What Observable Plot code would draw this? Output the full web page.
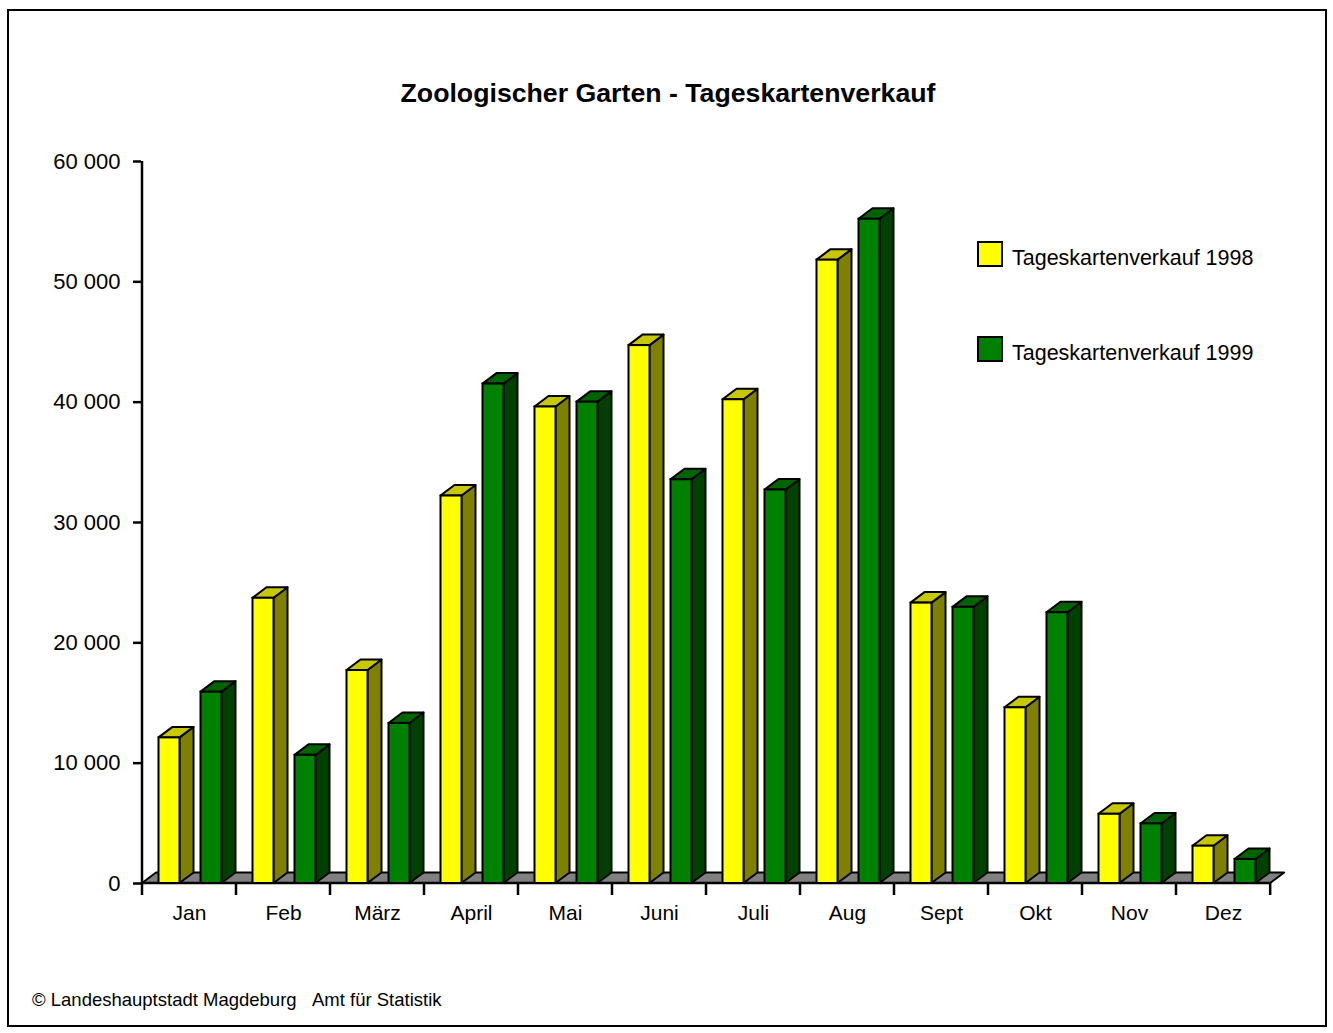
<!DOCTYPE html>
<html>
<head>
<meta charset="utf-8">
<script src="https://cdn.jsdelivr.net/npm/d3@7"></script>
<script src="https://cdn.jsdelivr.net/npm/@observablehq/plot@0.6"></script>
<style>
  body { margin: 0; background: #fff; font-family: "Liberation Sans", Arial, sans-serif; }
  #page { position: relative; width: 1333px; height: 1033px; overflow: hidden; background: #fff; }
  #frame { position: absolute; left: 7px; top: 9px; width: 1320px; height: 1018px; border: 2px solid #000; box-sizing: border-box; }
  #title { position: absolute; left: 0; top: 78px; width: 1336px; text-align: center; font-weight: bold; font-size: 26.7px; line-height: 31px; color: #000; }
  #chart { position: absolute; left: 0; top: 130px; }
  .leg { position: absolute; left: 977px; display: flex; align-items: center; font-size: 21.5px; color: #000; }
  .leg .sw { width: 26px; height: 26px; border: 2px solid #000; box-sizing: border-box; margin-right: 9px; }
  .leg span { position: relative; top: 4px; }
  #footer { position: absolute; left: 32px; top: 989px; font-size: 18.5px; line-height: 22px; color: #000; }
</style>
</head>
<body>
<div id="page">
  <div id="frame"></div>
  <div id="title"></div>
  <div id="chart"></div>
  <div id="legend"></div>
  <div id="footer"></div>
</div>
<script>
// ---- data ----
const months = ["Jan", "Feb", "März", "April", "Mai", "Juni", "Juli", "Aug", "Sept", "Okt", "Nov", "Dez"];
const sales1998 = [12100, 23700, 17700, 32200, 39600, 44700, 40200, 51800, 23300, 14600, 5750, 3100];
const sales1999 = [15900, 10650, 13300, 41500, 40000, 33550, 32700, 55200, 22950, 22500, 4950, 2000];
const seriesNames = ["Tageskartenverkauf 1998", "Tageskartenverkauf 1999"];
const yTicks = [0, 10000, 20000, 30000, 40000, 50000, 60000];
const titleText = "Zoologischer Garten - Tageskartenverkauf";
const footerText = "© Landeshauptstadt Magdeburg\u00a0\u00a0\u00a0Amt für Statistik";

// ---- styles ----
const palette = [
  {front: "#ffff00", side: "#808000", top: "#c8c800"},
  {front: "#008000", side: "#004000", top: "#006400"}
];
const DX = 14, DY = 10.5;
const insets = [[16.5, 37.5], [58.5, 79.5]]; // px within a month band

const rows = seriesNames.map((s, k) =>
  months.map((m, i) => ({month: m, value: (k === 0 ? sales1998 : sales1999)[i], series: s}))
);

function pts(a) { return a.map(p => p.join(",")).join(" "); }

function floorRender(index, scales, values, dims) {
  const g = d3.create("svg:g");
  const bw = (dims.width - dims.marginLeft - dims.marginRight) / months.length;
  const xa = scales.x(months[0]);
  const xb = scales.x(months[months.length - 1]) + bw;
  const y0 = scales.y(0);
  const yTop = scales.y(yTicks[yTicks.length - 1]);
  g.append("polygon")
    .attr("points", pts([[xa, y0], [xb, y0], [xb + DX, y0 - DY], [xa + DX, y0 - DY]]))
    .attr("fill", "#808080").attr("stroke", "#000").attr("stroke-width", 2).attr("stroke-linejoin", "round");
  g.append("line").attr("x1", xa).attr("x2", xb).attr("y1", y0).attr("y2", y0)
    .attr("stroke", "#000").attr("stroke-width", 2.5);
  g.append("line").attr("x1", xa).attr("x2", xa).attr("y1", yTop).attr("y2", y0 + 1)
    .attr("stroke", "#000").attr("stroke-width", 2.5);
  const bounds = months.map(m => scales.x(m)).concat([xb]);
  for (const bx of bounds) {
    g.append("line").attr("x1", bx).attr("x2", bx).attr("y1", y0).attr("y2", y0 + 12)
      .attr("stroke", "#000").attr("stroke-width", 2.5);
  }
  return g.node();
}

function barsRender(k) {
  const data = rows[k];
  const col = palette[k];
  const [il, ir] = insets[k];
  return function(index, scales) {
    const g = d3.create("svg:g");
    const y0 = scales.y(0);
    for (const i of index) {
      const d = data[i];
      const xs = scales.x(d.month);
      const xl = xs + il, xr = xs + ir;
      const yt = scales.y(d.value);
      g.append("polygon")
        .attr("points", pts([[xr, y0], [xr + DX, y0 - DY], [xr + DX, yt - DY], [xr, yt]]))
        .attr("fill", col.side).attr("stroke", "#000").attr("stroke-width", 2).attr("stroke-linejoin", "round");
      g.append("polygon")
        .attr("points", pts([[xl, yt], [xr, yt], [xr + DX, yt - DY], [xl + DX, yt - DY]]))
        .attr("fill", col.top).attr("stroke", "#000").attr("stroke-width", 2).attr("stroke-linejoin", "round");
      g.append("rect")
        .attr("x", xl).attr("y", yt).attr("width", xr - xl).attr("height", y0 - yt)
        .attr("fill", col.front).attr("stroke", "#000").attr("stroke-width", 2);
    }
    return g.node();
  };
}

const fmt = d => d3.format(",")(d).replace(/,/g, " ");

const chart = Plot.plot({
  width: 1333,
  height: 800,
  marginLeft: 141,
  marginRight: 62,
  marginTop: 31,
  marginBottom: 47,
  style: {fontFamily: "'Liberation Sans', Arial, sans-serif", fontSize: "21px", color: "#000", background: "transparent", overflow: "visible"},
  x: {domain: months, padding: 0, label: null},
  y: {domain: [0, 60000], label: null},
  marks: [
    Plot.ruleY([0], {render: floorRender}),
    Plot.barY(rows[0], {x: "month", y: "value", render: barsRender(0)}),
    Plot.barY(rows[1], {x: "month", y: "value", render: barsRender(1)}),
    Plot.axisY({ticks: yTicks, tickSize: 8, tickPadding: 13, tickFormat: fmt, strokeWidth: 2.5, fontSize: 22}),
    Plot.axisX({tickSize: 0, tickPadding: 22, fontSize: 21})
  ]
});
document.getElementById("chart").appendChild(chart);

document.getElementById("title").textContent = titleText;
document.getElementById("footer").textContent = footerText;

const legend = document.getElementById("legend");
const legTops = [241, 336];
seriesNames.forEach((name, k) => {
  const item = document.createElement("div");
  item.className = "leg";
  item.style.top = legTops[k] + "px";
  const sw = document.createElement("div");
  sw.className = "sw";
  sw.style.background = palette[k].front;
  const t = document.createElement("span");
  t.textContent = name;
  item.appendChild(sw);
  item.appendChild(t);
  legend.appendChild(item);
});
</script>
</body>
</html>
